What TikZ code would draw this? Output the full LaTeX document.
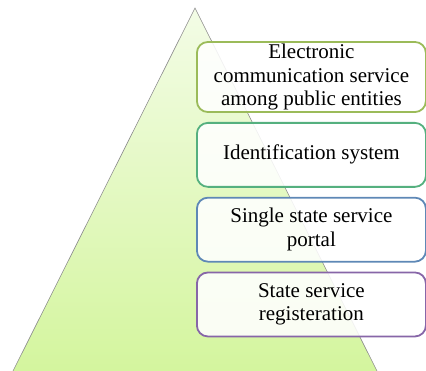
\documentclass[tikz,border=0pt]{standalone}
\usepackage{fontspec}
\setmainfont{Liberation Serif}
\usepackage{xcolor}
\usetikzlibrary{positioning}
\definecolor{layerA}{HTML}{9BBB59}
\definecolor{layerB}{HTML}{55B07F}
\definecolor{layerC}{HTML}{5E88B6}
\definecolor{layerD}{HTML}{8766A8}
\definecolor{pyrTop}{HTML}{F3FCE6}
\definecolor{pyrBot}{HTML}{D3F59C}
\tikzset{
  layer/.style={rectangle, rounded corners=11bp, line width=1.8bp,
    fill=white, fill opacity=0.88, text opacity=1, align=center,
    minimum width=229bp, minimum height=64bp, anchor=west,
    font=\fontsize{21bp}{23.5bp}\selectfont, inner sep=2bp},
  pyramid/.style={draw=black!45, line width=0.6bp, top color=pyrTop, bottom color=pyrBot},
}
\begin{document}
\begin{tikzpicture}[x=1bp,y=-1bp]
  \useasboundingbox (0,0) rectangle (426,371);
  % pyramid in the back
  \begin{scope}
    \clip (0,0) rectangle (426,371);
    \path[pyramid] (195,8) -- (8,381) -- (382,381) -- cycle;
  \end{scope}
  % layers, top to bottom
  \node[layer, draw=layerA] (comm) at (196,77) {Electronic\\communication service\\among public entities};
  \node[layer, draw=layerB, below=9bp of comm.south west, anchor=north west] (ident) {Identification system};
  \node[layer, draw=layerC, below=9bp of ident.south west, anchor=north west] (portal) {Single state service\\portal};
  \node[layer, draw=layerD, below=9bp of portal.south west, anchor=north west] (reg) {State service\\registeration};
\end{tikzpicture}
\end{document}
